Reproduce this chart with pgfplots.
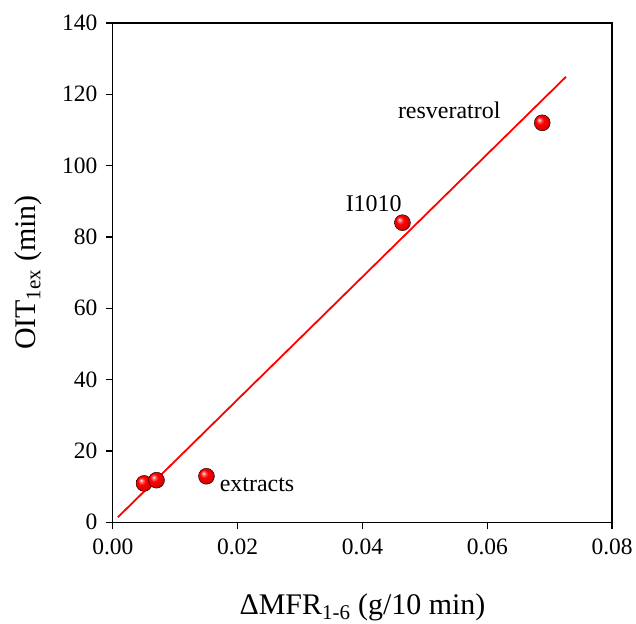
\documentclass[border=0pt]{standalone}
\usepackage{pgfplots}
\pgfplotsset{compat=1.18}
\usepackage{fontspec}
\setmainfont{Liberation Serif}
\makeatletter
\pgfdeclareradialshading[tikz@ball]{ball}{\pgfqpoint{-10bp}{10bp}}{%
 color(0bp)=(white); color(5bp)=(tikz@ball!55!white); color(12bp)=(tikz@ball); color(24bp)=(tikz@ball!88!black); color(28bp)=(tikz@ball!75!black); color(50bp)=(tikz@ball!60!black)}
\makeatother
\begin{document}
\begin{tikzpicture}
\begin{axis}[
  scale only axis, width=500pt, height=500pt,
  xmin=0, xmax=0.08, ymin=0, ymax=140,
  xtick={0,0.02,0.04,0.06,0.08},
  ytick={0,20,40,60,80,100,120,140},
  scaled x ticks=false,
  xticklabel style={/pgf/number format/.cd, fixed, fixed zerofill, precision=2, /tikz/yshift=-6pt},
  yticklabel style={xshift=-5pt},
  /pgf/number format/assume math mode=true,
  tick label style={font=\fontsize{23.5}{27}\selectfont},
  tick align=outside, xtick pos=bottom, ytick pos=left,
  major tick length=7pt,
  every tick/.style={black, line width=1.3pt},
  axis line style={black, line width=1.3pt},
  clip=false,
  xlabel={ΔMFR\textsubscript{1-6} (g/10 min)},
  ylabel={OIT\textsubscript{1ex} (min)},
  xlabel style={font=\fontsize{30}{34}\selectfont, at={(axis description cs:0.5,0)}, anchor=base, yshift=-92pt},
  ylabel style={font=\fontsize{30}{34}\selectfont, at={(axis description cs:-0.17,0.5)}, anchor=center},
]
\addplot[red, line width=1.8pt] coordinates {(0.0008,1.4) (0.0726,124.9)};
\addplot[only marks, mark=ball, mark size=8pt, mark options={ball color=red}] coordinates {
(0.0050,10.9) (0.0070,11.8) (0.0150,12.9) (0.0464,84.0) (0.0688,112.0)};
\node[font=\fontsize{24}{28}\selectfont, anchor=center] at (axis cs:0.0539,115.6) {resveratrol};
\node[font=\fontsize{24}{28}\selectfont, anchor=center] at (axis cs:0.0418,89.3) {I1010};
\node[font=\fontsize{24}{28}\selectfont, anchor=west, inner sep=0pt] at (axis cs:0.0171,10.6) {extracts};
\path (axis description cs:-0.226,-0.2) rectangle (axis description cs:1.046,1.046);
\end{axis}
\end{tikzpicture}
\end{document}
